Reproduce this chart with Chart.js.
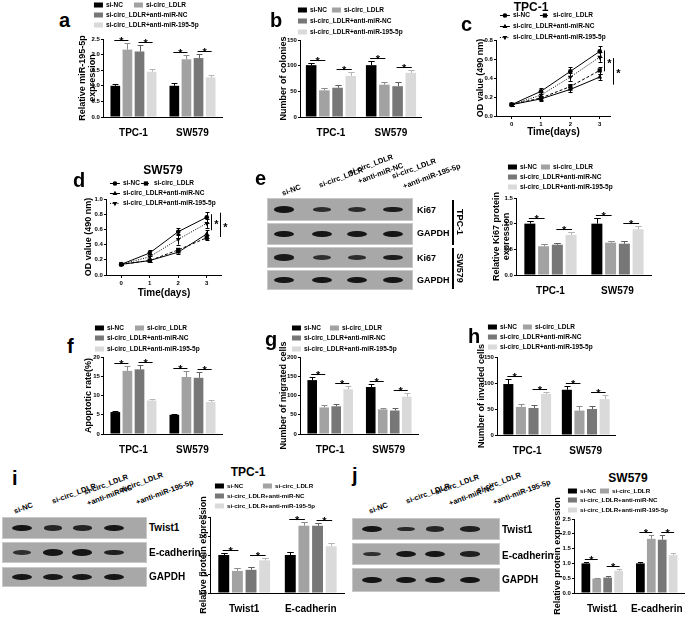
<!DOCTYPE html>
<html lang="en">
<head>
<meta charset="UTF-8">
<title>circ_LDLR / miR-195-5p figure</title>
<script src="https://cdn.jsdelivr.net/npm/chart.js"></script>
<style>
  body {
    margin: 0; width: 685px; height: 617px; position: relative; overflow: hidden; background: #fff;
    font-family: "Liberation Sans Narrow", "Liberation Sans", Arial, sans-serif; font-weight: bold; color: #000;
  }
  canvas, .t, .blot, .band, .lane, .vbar { position: absolute; }
  .t { white-space: nowrap; line-height: 1; }
  .letter { font-family: "Liberation Sans", Arial, sans-serif; font-size: 20px; line-height: 20px; }
  .blot { background: #a8a8a8; box-shadow: inset 0 0 0 1px #c8c8c8; }
  .band { background: #151515; border-radius: 50%; filter: blur(0.7px); }
  .lane { font-size: 7.5px; white-space: nowrap; line-height: 1; transform: rotate(-20deg); transform-origin: 0 0; }
  .vbar { background: #000; width: 1.5px; }
</style>
</head>
<body>
<script>
// ---------- data ----------
const groups = ['si-NC', 'si-circ_LDLR', 'si-circ_LDLR+anti-miR-NC', 'si-circ_LDLR+anti-miR-195-5p'];
const barColors = ['#000000', '#a2a2a2', '#777777', '#dadada'];
const errColors = ['#000000', '#8c8c8c', '#5f5f5f', '#b5b5b5'];
const cellLines = ['TPC-1', 'SW579'];
const proteins = ['Twist1', 'E-cadherin'];
const days = [0, 1, 2, 3];

// bar panels: one row per category, one value per group
const mirExpr = [[1.00, 2.16, 2.10, 1.45], [1.00, 1.85, 1.89, 1.27]];
const mirExprErr = [[0.06, 0.20, 0.20, 0.10], [0.09, 0.15, 0.12, 0.09]];
const colonies = [[101, 52, 57, 80], [101, 63, 60, 86]];
const coloniesErr = [[4, 5, 6, 7], [9, 6, 8, 6]];
const ki67 = [[1.00, 0.56, 0.59, 0.78], [1.00, 0.63, 0.61, 0.89]];
const ki67Err = [[0.06, 0.05, 0.04, 0.05], [0.11, 0.04, 0.05, 0.06]];
const apoptosis = [[5.7, 16.4, 16.8, 8.7], [5.0, 14.8, 14.6, 8.3]];
const apoptosisErr = [[0.2, 1.3, 1.1, 0.4], [0.1, 1.5, 1.6, 0.5]];
const migrated = [[140, 69, 72, 116], [122, 64, 61, 97]];
const migratedErr = [[9, 6, 5, 9], [9, 4, 7, 10]];
const invaded = [[98, 54, 52, 79], [87, 47, 50, 69]];
const invadedErr = [[9, 5, 6, 4], [7, 8, 5, 7]];
const emtTPC1 = [[1.00, 0.58, 0.61, 0.86], [1.00, 1.77, 1.77, 1.23]];
const emtTPC1Err = [[0.05, 0.07, 0.08, 0.06], [0.07, 0.10, 0.08, 0.08]];
const emtSW579 = [[1.00, 0.49, 0.52, 0.75], [1.00, 1.83, 1.80, 1.28]];
const emtSW579Err = [[0.06, 0.03, 0.05, 0.07], [0.05, 0.13, 0.15, 0.08]];

// line panels: one row per group, one value per day
const odTPC1 = [[0.12, 0.26, 0.47, 0.68], [0.12, 0.19, 0.31, 0.48], [0.12, 0.18, 0.28, 0.41], [0.12, 0.22, 0.41, 0.62]];
const odTPC1Err = [[0.01, 0.03, 0.05, 0.06], [0.01, 0.02, 0.03, 0.04], [0.01, 0.02, 0.03, 0.03], [0.01, 0.03, 0.04, 0.05]];
const odSW579 = [[0.14, 0.29, 0.57, 0.76], [0.14, 0.19, 0.33, 0.49], [0.14, 0.19, 0.30, 0.54], [0.14, 0.24, 0.47, 0.68]];
const odSW579Err = [[0.01, 0.04, 0.05, 0.07], [0.01, 0.02, 0.03, 0.03], [0.01, 0.02, 0.02, 0.05], [0.01, 0.03, 0.07, 0.06]];

// western blot band strengths (0..1), one row per probe, one value per lane
const blotE = [[1.0, 0.6, 0.65, 0.85], [1, 1, 1, 1], [0.9, 0.55, 0.6, 0.85], [1, 1, 1, 1]];
const blotI = [[1.0, 0.7, 0.75, 0.95], [0.55, 1.0, 1.0, 0.8], [0.95, 0.95, 0.95, 0.95]];
const blotJ = [[1.0, 0.65, 0.7, 0.8], [0.55, 1.0, 1.0, 0.8], [1, 1, 1, 1]];

// ---------- helpers ----------
const FONT = '"Liberation Sans Narrow", "Liberation Sans", Arial, sans-serif';
Chart.defaults.font.family = FONT;
Chart.defaults.font.weight = 'bold';
Chart.defaults.color = '#000';

const TITLE_SIZE = 9, TITLE_LH = 1.1;
const halfLH = TITLE_SIZE * TITLE_LH / 2;

const lineStyles = [
  { dash: [], style: 'circle', rot: 0, r: 2.3 },
  { dash: [3, 2], style: 'rect', rot: 0, r: 3 },
  { dash: [], style: 'triangle', rot: 0, r: 2.8 },
  { dash: [1, 1.5], style: 'triangle', rot: 180, r: 2.8 }
];

function makeCanvas(left, top, w, h) {
  const c = document.createElement('canvas');
  c.width = Math.round(w); c.height = Math.round(h);
  c.style.left = left + 'px'; c.style.top = top + 'px';
  document.body.appendChild(c);
  return c;
}

function label(str, x, y, size, anchor, rot, cls) {
  const s = document.createElement('div');
  s.className = 't' + (cls ? ' ' + cls : '');
  s.textContent = str;
  s.style.fontSize = size + 'px';
  s.style.left = x + 'px'; s.style.top = y + 'px';
  s.style.transform = (anchor || 'translate(-50%,-50%)') + (rot ? ` rotate(${rot}deg)` : '');
  document.body.appendChild(s);
  return s;
}

// error bars, significance marks and the legend, drawn with the chart's own scales
const figPlugin = {
  id: 'fig',
  afterDatasetsDraw(chart, args, o) {
    const ctx = chart.ctx, ys = chart.scales.y, xs = chart.scales.x;
    const dsets = chart.data.datasets;
    const val = (ds, j) => (o.kind === 'bar' ? ds.data[j] : ds.data[j].y);
    ctx.save();
    ctx.lineWidth = 1;
    dsets.forEach((ds, i) => {
      chart.getDatasetMeta(i).data.forEach((el, j) => {
        const v = val(ds, j), e = ds.err[j];
        const x = Math.round(el.x) + 0.5;
        const yTop = Math.round(ys.getPixelForValue(v + e)) + 0.5;
        const yBot = ys.getPixelForValue(o.kind === 'bar' ? v : v - e);
        const half = o.kind === 'bar' ? el.width * 0.3 : 2;
        ctx.strokeStyle = o.kind === 'bar' ? errColors[i] : '#000';
        ctx.beginPath();
        ctx.moveTo(x, yBot); ctx.lineTo(x, yTop);
        ctx.moveTo(x - half, yTop); ctx.lineTo(x + half, yTop);
        if (o.kind !== 'bar') {
          const yb = Math.round(yBot) + 0.5;
          ctx.moveTo(x - half, yb); ctx.lineTo(x + half, yb);
        }
        ctx.stroke();
      });
    });
    ctx.strokeStyle = '#000';
    ctx.fillStyle = '#000';
    ctx.font = 'bold 11px "Liberation Sans", Arial, sans-serif';
    ctx.textAlign = 'center';
    if (o.kind === 'bar') {
      chart.data.labels.forEach((_, j) => {
        [[0, 1], [2, 3]].forEach(([p, q]) => {
          const a = chart.getDatasetMeta(p).data[j], b = chart.getDatasetMeta(q).data[j];
          const top = Math.min(ys.getPixelForValue(dsets[p].data[j] + dsets[p].err[j]),
                               ys.getPixelForValue(dsets[q].data[j] + dsets[q].err[j]));
          const yl = Math.round(top - 3) + 0.5;
          ctx.beginPath(); ctx.moveTo(a.x - 1, yl); ctx.lineTo(b.x + 1, yl); ctx.stroke();
          ctx.textBaseline = 'alphabetic';
          ctx.fillText('*', (a.x + b.x) / 2, yl + 4);
        });
      });
    } else {
      (o.brackets || []).forEach(bk => {
        const x = Math.round(xs.getPixelForValue(bk.x)) + 0.5;
        const y0 = ys.getPixelForValue(bk.y0), y1 = ys.getPixelForValue(bk.y1);
        ctx.beginPath(); ctx.moveTo(x, y0); ctx.lineTo(x, y1); ctx.stroke();
        ctx.textBaseline = 'alphabetic';
        ctx.fillText('*', x + 5, (y0 + y1) / 2 + 6);
      });
    }
    ctx.restore();
  },
  afterDraw(chart, args, o) {
    const L = o.legend;
    const ctx = chart.ctx;
    const slots = [[L.x, L.ys[0]], [L.x2, L.ys[0]], [L.x, L.ys[1]], [L.x, L.ys[2]]];
    ctx.save();
    ctx.font = `bold ${L.size || 6.5}px ${FONT}`;
    ctx.textBaseline = 'middle';
    ctx.textAlign = 'left';
    chart.data.datasets.forEach((ds, k) => {
      const px = slots[k][0] - o.ox, py = Math.round(slots[k][1] - o.oy);
      if (o.kind === 'bar') {
        ctx.fillStyle = barColors[k];
        ctx.fillRect(px, py - 2.5, 9, 5);
        ctx.fillStyle = '#000';
        ctx.fillText(ds.label, px + 12, py);
      } else {
        const st = lineStyles[k];
        ctx.strokeStyle = '#000'; ctx.fillStyle = '#000'; ctx.lineWidth = 1;
        ctx.setLineDash(st.dash);
        ctx.beginPath(); ctx.moveTo(px, py + 0.5); ctx.lineTo(px + 10, py + 0.5); ctx.stroke();
        ctx.setLineDash([]);
        Chart.helpers.drawPoint(ctx, { pointStyle: st.style, rotation: st.rot, radius: st.r, borderWidth: 0 }, px + 5, py + 0.5);
        ctx.fillText(ds.label, px + 13, py);
      }
    });
    ctx.restore();
  }
};

function yScale(p, padL) {
  return {
    min: 0, max: p.max,
    ticks: { stepSize: p.step, font: { size: 6 }, padding: 1, callback: v => v.toFixed(p.dec) },
    grid: { display: true, drawOnChartArea: false, tickLength: 3, color: '#000', lineWidth: 1 },
    border: { display: true, color: '#000', width: 1 },
    title: { display: true, text: p.title, font: { size: TITLE_SIZE, lineHeight: TITLE_LH }, padding: 0 },
    afterFit: s => { s.width = padL; }
  };
}

function barPanel(p) {
  const [l, t, r, b] = p.box;
  const cl = p.titleX - halfLH, ct = p.legend.ys[0] - 6;
  const padL = l - cl, padT = t - ct, padR = 4, padB = p.padB || 20;
  const cv = makeCanvas(cl, ct, r + padR - cl, b + padB - ct);
  const datasets = groups.map((g, k) => ({
    label: g,
    data: p.values.map(row => row[k]),
    err: p.errors.map(row => row[k]),
    backgroundColor: barColors[k],
    barPercentage: 0.8,
    categoryPercentage: p.catPct
  }));
  new Chart(cv, {
    type: 'bar',
    data: { labels: p.cats, datasets },
    options: {
      responsive: false, animation: false, devicePixelRatio: 1,
      layout: { padding: { top: padT, right: padR, left: 0, bottom: 0 } },
      plugins: { legend: { display: false }, tooltip: { enabled: false },
                 fig: { kind: 'bar', ox: cl, oy: ct, legend: p.legend } },
      scales: {
        x: { grid: { display: false }, border: { display: true, color: '#000', width: 1 },
             ticks: { font: { size: 10 }, padding: 2, maxRotation: 0, minRotation: 0, autoSkip: false },
             afterFit: s => { s.height = padB; } },
        y: yScale(p, padL)
      }
    },
    plugins: [figPlugin]
  });
}

function linePanel(p) {
  const [l, t, r, b] = p.box;
  const cl = p.titleX - halfLH, ct = p.legend.ys[0] - 6;
  const padL = l - cl, padT = t - ct, padR = 16, padB = p.padB;
  const cv = makeCanvas(cl, ct, r + padR - cl, b + padB - ct);
  const datasets = groups.map((g, k) => ({
    label: g,
    data: days.map((d, j) => ({ x: d, y: p.values[k][j] })),
    err: p.errors[k],
    borderColor: '#000', backgroundColor: '#000', borderWidth: 1,
    borderDash: lineStyles[k].dash,
    pointStyle: lineStyles[k].style, pointRotation: lineStyles[k].rot,
    pointRadius: lineStyles[k].r, pointBorderWidth: 0
  }));
  new Chart(cv, {
    type: 'line',
    data: { datasets },
    options: {
      responsive: false, animation: false, devicePixelRatio: 1,
      layout: { padding: { top: padT, right: padR, left: 0, bottom: 0 } },
      plugins: { legend: { display: false }, tooltip: { enabled: false },
                 fig: { kind: 'line', ox: cl, oy: ct, legend: p.legend, brackets: p.brackets } },
      scales: {
        x: { type: 'linear', min: p.xMin, max: p.xMax,
             afterBuildTicks: s => { s.ticks = days.map(v => ({ value: v })); },
             ticks: { font: { size: 6 }, padding: 2, callback: v => String(v) },
             grid: { display: true, drawOnChartArea: false, tickLength: 3, color: '#000' },
             border: { display: true, color: '#000', width: 1 },
             title: { display: true, text: 'Time(days)', font: { size: 10, lineHeight: 1.1 }, padding: 0 },
             afterFit: s => { s.height = padB; } },
        y: yScale(p, padL)
      }
    },
    plugins: [figPlugin]
  });
}

function blot(x, w, rows, lanes, strengths) {
  rows.forEach(([top, h], i) => {
    const d = document.createElement('div');
    d.className = 'blot';
    d.style.left = x + 'px'; d.style.top = top + 'px';
    d.style.width = w + 'px'; d.style.height = h + 'px';
    document.body.appendChild(d);
    lanes.forEach((cx, k) => {
      const s = strengths[i][k];
      const bw = 16 + 4 * s, bh = 2 + 4.5 * s;
      const band = document.createElement('div');
      band.className = 'band';
      band.style.left = (cx - bw / 2) + 'px'; band.style.top = (top + h / 2 - bh / 2) + 'px';
      band.style.width = bw + 'px'; band.style.height = bh + 'px';
      band.style.opacity = 0.6 + 0.4 * s;
      document.body.appendChild(band);
    });
  });
}

function lanes(items) {
  items.forEach(([str, x, y]) => {
    const d = document.createElement('div');
    d.className = 'lane';
    d.textContent = str;
    d.style.left = x + 'px'; d.style.top = y + 'px';
    document.body.appendChild(d);
  });
}

// ---------- panels ----------
barPanel({ box: [104, 39, 222, 117], titleX: 83, title: ['Relative miR-195-5p', 'expression'],
  max: 2.5, step: 0.5, dec: 1, values: mirExpr, errors: mirExprErr, cats: cellLines, catPct: 0.82,
  legend: { x: 94, x2: 134, ys: [5, 15, 25] } });
barPanel({ box: [301, 40, 421, 117], titleX: 284, title: 'Number of colonies',
  max: 150, step: 50, dec: 0, values: colonies, errors: coloniesErr, cats: cellLines, catPct: 0.88,
  legend: { x: 298, x2: 332, ys: [10, 21, 32] } });
linePanel({ box: [497, 40, 610, 116], titleX: 481, title: 'OD value (490 nm)',
  max: 0.8, step: 0.2, dec: 1, xMin: -0.5, xMax: 3.35, padB: 22, values: odTPC1, errors: odTPC1Err,
  legend: { x: 500, x2: 540, ys: [15, 26, 37] },
  brackets: [{ x: 3.14, y0: 0.69, y1: 0.47 }, { x: 3.45, y0: 0.61, y1: 0.33 }] });
linePanel({ box: [107, 199, 221, 275], titleX: 89, title: 'OD value (490 nm)',
  max: 1.0, step: 0.2, dec: 1, xMin: -0.5, xMax: 3.5, padB: 24, values: odSW579, errors: odSW579Err,
  legend: { x: 110, x2: 141, ys: [183, 193, 203] },
  brackets: [{ x: 3.15, y0: 0.80, y1: 0.59 }, { x: 3.47, y0: 0.82, y1: 0.50 }] });
barPanel({ box: [517, 198, 651, 275], titleX: 497, title: ['Relative Ki67 protein', 'expression'],
  max: 1.5, step: 0.5, dec: 1, values: ki67, errors: ki67Err, cats: cellLines, catPct: 0.82,
  legend: { x: 508, x2: 541, ys: [167, 177, 187] } });
barPanel({ box: [104, 357, 222, 434], titleX: 89, title: 'Apoptotic rate(%)',
  max: 20, step: 5, dec: 0, values: apoptosis, errors: apoptosisErr, cats: cellLines, catPct: 0.82,
  legend: { x: 95, x2: 135, ys: [328, 338, 349] } });
barPanel({ box: [301, 357, 418, 434], titleX: 284, title: 'Number of migrated cells',
  max: 200, step: 50, dec: 0, values: migrated, errors: migratedErr, cats: cellLines, catPct: 0.82,
  legend: { x: 292, x2: 330, ys: [328, 338, 349] } });
barPanel({ box: [498, 357, 615, 435], titleX: 482, title: 'Number of invaded cells',
  max: 150, step: 50, dec: 0, values: invaded, errors: invadedErr, cats: cellLines, catPct: 0.86,
  legend: { x: 488, x2: 523, ys: [327, 337, 347] } });
barPanel({ box: [211, 517, 344, 593], titleX: 204, title: 'Relative protein expression', padB: 24,
  max: 2.0, step: 0.5, dec: 1, values: emtTPC1, errors: emtTPC1Err, cats: proteins, catPct: 0.82,
  legend: { x: 215, x2: 263, ys: [486, 496, 506], size: 6.2 } });
barPanel({ box: [575, 519, 684, 593], titleX: 558, title: 'Relative protein expression', padB: 24,
  max: 2.5, step: 0.5, dec: 1, values: emtSW579, errors: emtSW579Err, cats: proteins, catPct: 0.8,
  legend: { x: 568, x2: 600, ys: [491, 500, 510], size: 6.2 } });

// panel letters (x, baseline)
[['a', 59, 27], ['b', 270, 27], ['c', 461, 31], ['d', 73, 187], ['e', 255, 185],
 ['f', 67, 353], ['g', 265, 346], ['h', 468, 343], ['i', 12, 485], ['j', 352, 482]]
  .forEach(([s, x, y]) => label(s, x, y - 17, 20, 'none', 0, 'letter'));

// chart titles
label('TPC-1', 531, 7, 12);
label('SW579', 163, 170, 12);
label('TPC-1', 248, 472, 12);
label('SW579', 628, 478, 12);

// blot e
blot(267, 146, [[198, 23], [223, 22], [247, 21], [270, 20]], [284, 322, 357, 393], blotE);
lanes([['si-NC', 281, 190], ['si-circ_LDLR', 318, 182], ['si-circ_LDLR', 348, 169],
       ['+anti-miR-NC', 357, 178], ['si-circ_LDLR', 391, 173], ['+anti-miR-195-5p', 402, 183]]);
[['Ki67', 210], ['GAPDH', 233], ['Ki67', 258], ['GAPDH', 280]].forEach(([s, y]) => label(s, 417, y, 9, 'translate(0,-50%)'));
[[200, 45], [248, 41]].forEach(([y, h]) => {
  const v = document.createElement('div'); v.className = 'vbar';
  v.style.left = '452px'; v.style.top = y + 'px'; v.style.height = h + 'px';
  document.body.appendChild(v);
});
label('TPC-1', 459, 222, 9, 'translate(-50%,-50%)', 90);
label('SW579', 459, 268, 9, 'translate(-50%,-50%)', 90);

// blot i
blot(2, 145, [[517, 22], [542, 21], [567, 20]], [22, 53, 82, 114], blotI);
lanes([['si-NC', 13, 508], ['si-circ_LDLR', 51, 498], ['si-circ_LDLR', 83, 489],
       ['+anti-miR-NC', 86, 500], ['si-circ_LDLR', 118, 487], ['+anti-miR-195-5p', 135, 499]]);
[['Twist1', 528], ['E-cadherin', 553], ['GAPDH', 577]].forEach(([s, y]) => label(s, 149, y, 10, 'translate(0,-50%)'));

// blot j
blot(352, 148, [[518, 22], [543, 22], [568, 24]], [372, 406, 435, 470], blotJ);
lanes([['si-NC', 368, 508], ['si-circ_LDLR', 405, 498], ['si-circ_LDLR', 434, 489],
       ['+anti-miR-NC', 448, 500], ['si-circ_LDLR', 476, 487], ['+anti-miR-195-5p', 492, 499]]);
[['Twist1', 530], ['E-cadherin', 556], ['GAPDH', 580]].forEach(([s, y]) => label(s, 502, y, 10, 'translate(0,-50%)'));
</script>
</body>
</html>
